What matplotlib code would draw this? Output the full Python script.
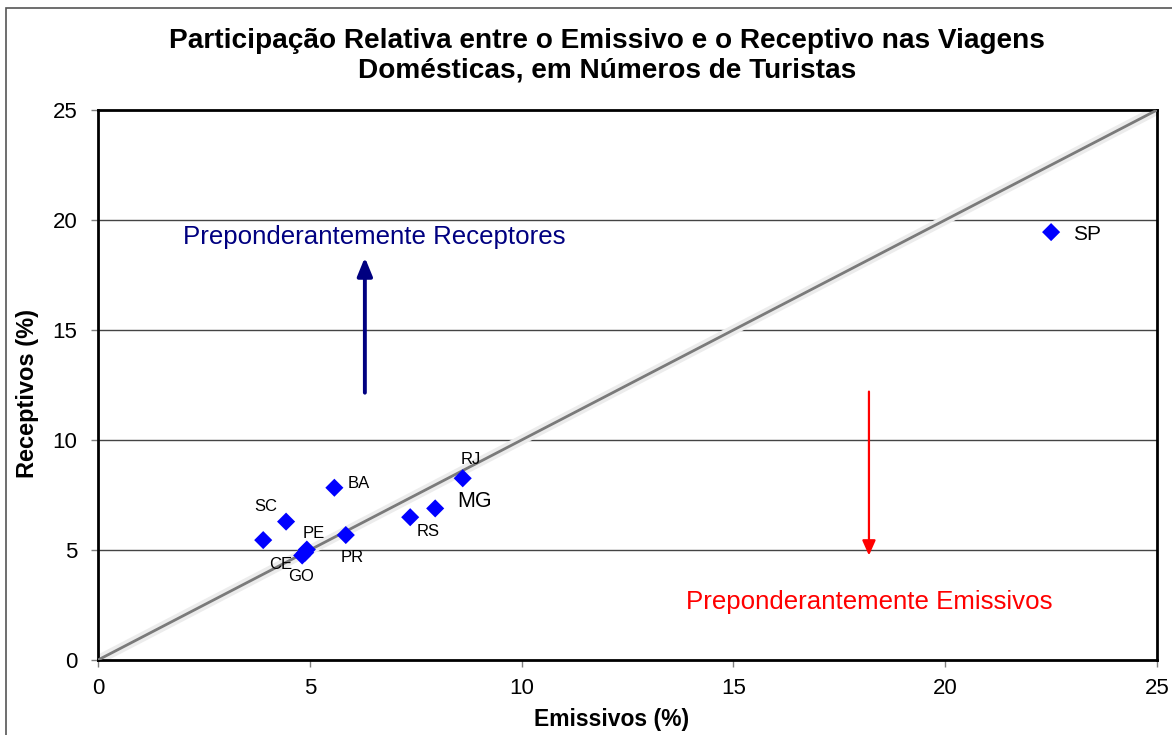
import matplotlib
matplotlib.use("Agg")
import matplotlib.pyplot as plt
from matplotlib.patches import Rectangle

plt.rcParams["font.family"] = ["Liberation Sans", "DejaVu Sans"]

# data (% of domestic trips)
states = ["SP", "RJ", "MG", "RS", "BA", "PR", "SC", "", "PE", "CE", "GO"]
emissivos = [22.5, 8.61, 7.96, 7.37, 5.58, 5.85, 4.44, 3.90, 4.93, 4.82, 4.89]
receptivos = [19.45, 8.26, 6.89, 6.49, 7.83, 5.68, 6.29, 5.45, 5.02, 4.75, 4.88]

# label offsets (points, left edge / vertical centre) and font size
label_style = {
    "SP": ((16, -2), 15),
    "RJ": ((-1.5, 13.5), 12),
    "MG": ((16, 5), 15.5),
    "RS": ((4.5, -10), 12),
    "BA": ((9.5, 3), 12),
    "PR": ((-4, -16.5), 12),
    "SC": ((-23, 11), 12),
    "PE": ((-3, 11.5), 12),
    "CE": ((-24, -6.5), 12),
    "GO": ((-12, -17), 12),
}

fig = plt.figure(figsize=(11.72, 7.35), dpi=100)
ax = fig.add_axes([98 / 1172, 75 / 735, 1059 / 1172, 550 / 735])

# outer chart border (left and top visible)
fig.patches.append(Rectangle((6 / 1172, -0.1), 1.2, (735 - 8) / 735 + 0.1,
                             transform=fig.transFigure, fill=False,
                             edgecolor="#555555", linewidth=1.2))

ax.set_xlim(0, 25)
ax.set_ylim(0, 25)
ax.set_xticks(range(0, 26, 5))
ax.set_yticks(range(0, 26, 5))
ax.tick_params(direction="out", length=5, width=1, color="#808080",
               labelsize=16)
ax.tick_params(axis="x", pad=8)
ax.tick_params(axis="y", pad=10)
for s in ax.spines.values():
    s.set_linewidth(2)
    s.set_color("black")
for y in range(5, 25, 5):
    ax.axhline(y, color="#444444", linewidth=1, zorder=1)

# 45 degree reference line
ax.plot([0, 25], [0, 25], color="#ececec", linewidth=7, zorder=2)
ax.plot([0, 25], [0, 25], color="#7a7a7a", linewidth=2, zorder=3)

ax.scatter(emissivos, receptivos, marker="D", s=85, color="#0000ff",
           edgecolors="none", zorder=4)
for name, x, y in zip(states, emissivos, receptivos):
    if not name:
        continue
    (dx, dy), fs = label_style[name]
    ax.annotate(name, (x, y), xytext=(dx, dy), textcoords="offset points",
                fontsize=fs, ha="left", va="center", zorder=5)

ax.annotate("", xy=(6.3, 18.3), xytext=(6.3, 12.15),
            arrowprops=dict(arrowstyle="-|>,head_length=1.1,head_width=0.45",
                            color="#000080", linewidth=2.8,
                            shrinkA=0, shrinkB=0))
ax.annotate("", xy=(18.2, 4.75), xytext=(18.2, 12.2),
            arrowprops=dict(arrowstyle="-|>,head_length=0.9,head_width=0.4",
                            color="#ff0000", linewidth=1.6,
                            shrinkA=0, shrinkB=0))
ax.text(2.0, 19.23, "Preponderantemente Receptores", color="#000080",
        fontsize=18.6, va="center")
ax.text(13.88, 2.64, "Preponderantemente Emissivos", color="#ff0000",
        fontsize=18.6, va="center")

ax.set_xlabel("Emissivos (%)", fontsize=16.5, fontweight="bold")
ax.set_ylabel("Receptivos (%)", fontsize=17, fontweight="bold")
ax.xaxis.set_label_coords((612 - 98) / 1059, -(708 - 660) / 550)
ax.yaxis.set_label_coords(-(98 - 39) / 1059, (660 - 394) / 550)
fig.text(0.518, 0.9245,
         "Participação Relativa entre o Emissivo e o Receptivo nas Viagens\n"
         "Domésticas, em Números de Turistas",
         ha="center", va="center", fontsize=20.2, fontweight="bold",
         linespacing=1.18)

fig.savefig("out.png", dpi=100)
